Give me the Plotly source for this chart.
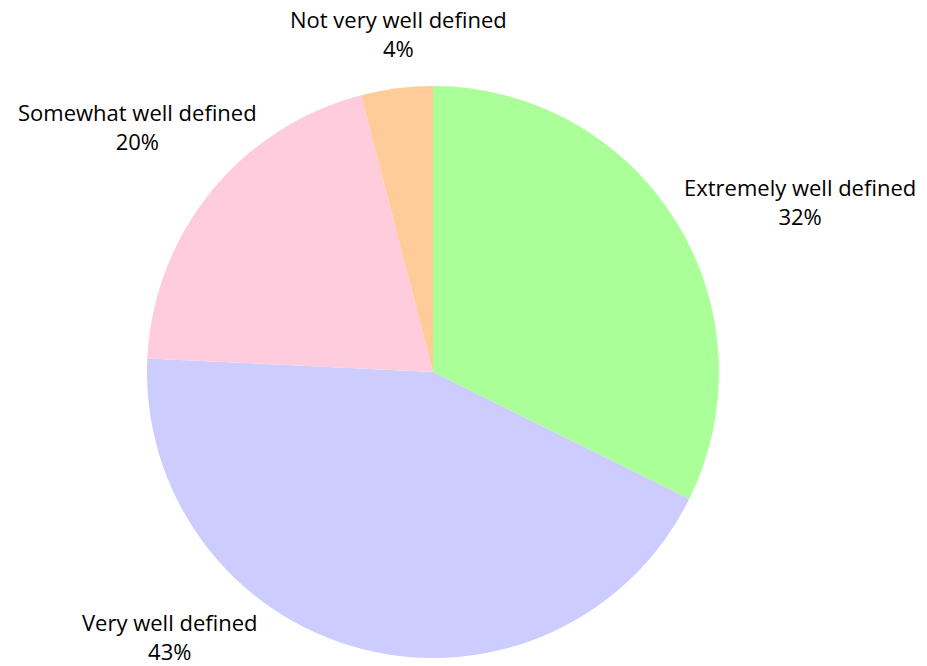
import plotly.graph_objects as go

# Survey responses, in clockwise order from 12 o'clock
labels = ["Extremely well defined", "Very well defined", "Somewhat well defined", "Not very well defined"]
values = [32, 43, 20, 4]
colors = ["#AAFF99", "#CCCCFF", "#FFCCDD", "#FFCC99"]

W, H = 927, 666

# Label anchor points (paper fractions) for each slice
label_x = [800 / W, 170 / W, 137 / W, 398.5 / W]
label_y = [1 - 201 / H, 1 - 636 / H, 1 - 127 / H, 1 - 34 / H]

total = sum(values)
percents = [round(v / total * 100) for v in values]

fig = go.Figure(
    go.Pie(
        labels=labels,
        values=values,
        sort=False,
        direction="clockwise",
        rotation=0,
        marker=dict(colors=colors, line=dict(width=0)),
        textinfo="none",
        hoverinfo="label+percent",
        showlegend=False,
        domain=dict(x=[147 / W, 719 / W], y=[8 / H, 580 / H]),
    )
)

font = dict(family="'Open Sans', Lato, sans-serif", size=22, color="#000000")
for lab, pct, x, y in zip(labels, percents, label_x, label_y):
    fig.add_annotation(
        text=f"{lab}<br>{pct}%",
        x=x, y=y, xref="paper", yref="paper",
        xanchor="center", yanchor="middle",
        showarrow=False, align="center", font=font,
    )

fig.update_layout(
    width=W, height=H,
    margin=dict(l=0, r=0, t=0, b=0),
    paper_bgcolor="white",
    plot_bgcolor="white",
)

fig.write_html("out.html")
